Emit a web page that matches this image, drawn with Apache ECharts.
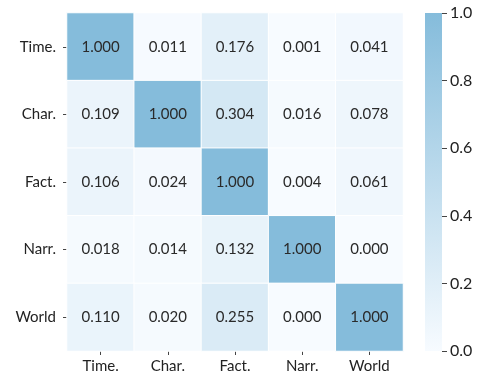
<!DOCTYPE html>
<html>
<head>
<meta charset="utf-8">
<script src="https://cdn.jsdelivr.net/npm/echarts@6/dist/echarts.min.js"></script>
<style>
  html, body { margin: 0; padding: 0; background: #fff; }
  #chart { width: 481px; height: 381px; }
</style>
</head>
<body>
<div id="chart"></div>
<script>
// Category labels (columns left-to-right, rows top-to-bottom)
const categories = ['Time.', 'Char.', 'Fact.', 'Narr.', 'World'];

// Matrix rows, one per category
const rowTime  = [1.000, 0.011, 0.176, 0.001, 0.041];
const rowChar  = [0.109, 1.000, 0.304, 0.016, 0.078];
const rowFact  = [0.106, 0.024, 1.000, 0.004, 0.061];
const rowNarr  = [0.018, 0.014, 0.132, 1.000, 0.000];
const rowWorld = [0.110, 0.020, 0.255, 0.000, 1.000];
const rows = [rowTime, rowChar, rowFact, rowNarr, rowWorld];

// Colour scale range and colourbar ticks
const scaleMin = 0;
const scaleMax = 1;
const colorbarTicks = [0.0, 0.2, 0.4, 0.6, 0.8, 1.0];

const lowColor = '#f7fbff';
const highColor = '#85bcdb';
const fontFamily = 'Lato, "Open Sans", sans-serif';

const cells = [];
rows.forEach((row, r) => {
  row.forEach((v, c) => cells.push([c, r, v]));
});

const chart = echarts.init(document.getElementById('chart'));
chart.setOption({
  animation: false,
  backgroundColor: '#ffffff',
  grid: [
    { left: 67, top: 13, width: 336, height: 338 },
    { left: 425, top: 13, width: 17, height: 338 }
  ],
  xAxis: [
    {
      type: 'category', gridIndex: 0, data: categories, position: 'bottom',
      axisLine: { show: false },
      axisTick: { show: true, alignWithLabel: true, length: 4, lineStyle: { color: '#444' } },
      axisLabel: { color: '#222', fontSize: 15, fontFamily: fontFamily, margin: 8 },
      splitLine: { show: false }
    },
    {
      type: 'category', gridIndex: 1, data: ['cb'], show: false
    }
  ],
  yAxis: [
    {
      type: 'category', gridIndex: 0, data: categories, inverse: true,
      axisLine: { show: false },
      axisTick: { show: true, alignWithLabel: true, length: 4, lineStyle: { color: '#444' } },
      axisLabel: { color: '#222', fontSize: 15, fontFamily: fontFamily, margin: 11 },
      splitLine: { show: false }
    },
    {
      type: 'value', gridIndex: 1, min: scaleMin, max: scaleMax, interval: 0.2,
      position: 'right',
      axisLine: { show: false },
      axisTick: { show: true, length: 5, lineStyle: { color: '#444' } },
      axisLabel: {
        color: '#222', fontSize: 16, fontFamily: fontFamily, margin: 8,
        formatter: v => colorbarTicks.some(t => Math.abs(t - v) < 1e-9) ? v.toFixed(1) : ''
      },
      splitLine: { show: false }
    }
  ],
  visualMap: {
    show: false, min: scaleMin, max: scaleMax, seriesIndex: 0, dimension: 2,
    inRange: { color: [lowColor, highColor] }
  },
  series: [
    {
      type: 'heatmap', xAxisIndex: 0, yAxisIndex: 0, data: cells,
      itemStyle: { borderColor: '#ffffff', borderWidth: 1 },
      label: {
        show: true, color: '#2a2a2a', fontSize: 15, fontFamily: fontFamily,
        formatter: p => p.value[2].toFixed(3)
      },
      emphasis: { disabled: true }
    },
    {
      // Colourbar drawn as a single full-height bar with a gradient fill
      type: 'bar', xAxisIndex: 1, yAxisIndex: 1, data: [scaleMax], barWidth: '100%',
      itemStyle: {
        color: new echarts.graphic.LinearGradient(0, 0, 0, 1, [
          { offset: 0, color: highColor },
          { offset: 1, color: lowColor }
        ])
      },
      silent: true
    }
  ]
});
</script>
</body>
</html>
